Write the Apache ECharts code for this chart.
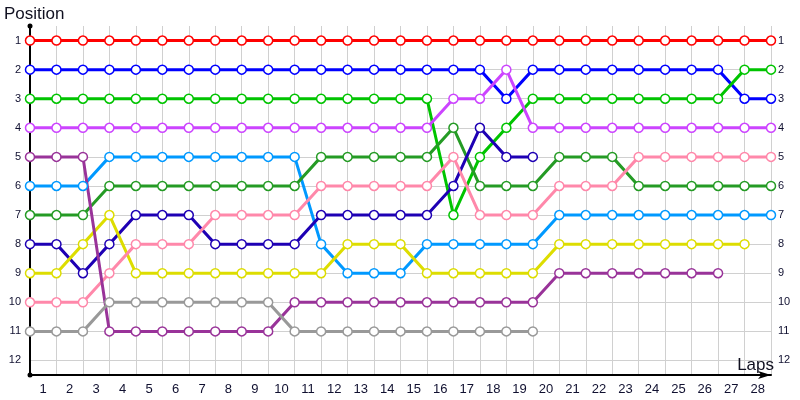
<!DOCTYPE html>
<html>
<head>
<meta charset="utf-8">
<script src="https://cdn.jsdelivr.net/npm/echarts@6/dist/echarts.min.js"></script>
<style>
  html, body { margin: 0; padding: 0; background: #fff; }
  #chart { width: 800px; height: 400px; }
</style>
</head>
<body>
<div id="chart"></div>
<script>
// laps 0..28, positions (null = out of the race)
const laps = [0, 1, 2, 3, 4, 5, 6, 7, 8, 9, 10, 11, 12, 13, 14, 15, 16, 17, 18, 19, 20, 21, 22, 23, 24, 25, 26, 27, 28]
const lapLabels = ['1', '2', '3', '4', '5', '6', '7', '8', '9', '10', '11', '12', '13', '14',
  '15', '16', '17', '18', '19', '20', '21', '22', '23', '24', '25', '26', '27', '28']
const positionLabels = [1, 2, 3, 4, 5, 6, 7, 8, 9, 10, 11, 12]

const red = [1, 1, 1, 1, 1, 1, 1, 1, 1, 1, 1, 1, 1, 1, 1, 1, 1, 1, 1, 1, 1, 1, 1, 1, 1, 1, 1, 1, 1]
const blue = [2, 2, 2, 2, 2, 2, 2, 2, 2, 2, 2, 2, 2, 2, 2, 2, 2, 2, 3, 2, 2, 2, 2, 2, 2, 2, 2, 3, 3]
const green = [3, 3, 3, 3, 3, 3, 3, 3, 3, 3, 3, 3, 3, 3, 3, 3, 7, 5, 4, 3, 3, 3, 3, 3, 3, 3, 3, 2, 2]
const magenta = [4, 4, 4, 4, 4, 4, 4, 4, 4, 4, 4, 4, 4, 4, 4, 4, 3, 3, 2, 4, 4, 4, 4, 4, 4, 4, 4, 4, 4]
const purple = [5, 5, 5, 11, 11, 11, 11, 11, 11, 11, 10, 10, 10, 10, 10, 10, 10, 10, 10, 10, 9, 9, 9, 9, 9, 9, 9, null, null]
const lightBlue = [6, 6, 6, 5, 5, 5, 5, 5, 5, 5, 5, 8, 9, 9, 9, 8, 8, 8, 8, 8, 7, 7, 7, 7, 7, 7, 7, 7, 7]
const darkGreen = [7, 7, 7, 6, 6, 6, 6, 6, 6, 6, 6, 5, 5, 5, 5, 5, 4, 6, 6, 6, 5, 5, 5, 6, 6, 6, 6, 6, 6]
const navy = [8, 8, 9, 8, 7, 7, 7, 8, 8, 8, 8, 7, 7, 7, 7, 7, 6, 4, 5, 5, null, null, null, null, null, null, null, null, null]
const yellow = [9, 9, 8, 7, 9, 9, 9, 9, 9, 9, 9, 9, 8, 8, 8, 9, 9, 9, 9, 9, 8, 8, 8, 8, 8, 8, 8, 8, null]
const pink = [10, 10, 10, 9, 8, 8, 8, 7, 7, 7, 7, 6, 6, 6, 6, 6, 5, 7, 7, 7, 6, 6, 6, 5, 5, 5, 5, 5, 5]
const gray = [11, 11, 11, 10, 10, 10, 10, 10, 10, 10, 11, 11, 11, 11, 11, 11, 11, 11, 11, 11, null, null, null, null, null, null, null, null, null]

const drivers = [
  { data: red, color: '#ff0000' },
  { data: blue, color: '#0000ff' },
  { data: green, color: '#00c400' },
  { data: magenta, color: '#cc44ff' },
  { data: lightBlue, color: '#0099ff' },
  { data: darkGreen, color: '#259b25' },
  { data: navy, color: '#1e00b4' },
  { data: yellow, color: '#dddd00' },
  { data: pink, color: '#ff88aa' },
  { data: purple, color: '#993399' },
  { data: gray, color: '#999999' },
]

const font = 'Liberation Sans'
const myChart = echarts.init(document.getElementById('chart'))

const yBase = {
  type: 'value',
  inverse: true,
  min: 0.5,
  max: 12.5,
  axisTick: { show: false, customValues: positionLabels },
  axisLabel: {
    customValues: positionLabels,
    fontFamily: font,
    fontSize: 11,
    color: '#101030',
  },
}

const titleStyle = { fontFamily: font, fontSize: 17, fontWeight: 'normal', color: '#101020' }

const option = {
  animation: false,
  title: [
    { text: 'Position', left: 4, top: 6, padding: 0, textStyle: titleStyle },
    { text: 'Laps', right: 26, top: 357, padding: 0, textStyle: titleStyle },
  ],
  grid: { left: 30, right: 29, top: 26, bottom: 25, containLabel: false, outerBoundsMode: 'none' },
  xAxis: {
    type: 'value',
    min: 0,
    max: 28,
    interval: 1,
    axisLine: {
      lineStyle: { color: '#000', width: 2 },
      symbol: ['none', 'arrow'],
      symbolSize: [6, 13],
    },
    axisTick: { show: false },
    axisLabel: {
      customValues: lapLabels.map((_, i) => i + 0.5),
      formatter: (v) => lapLabels[Math.floor(v)],
      fontFamily: font,
      fontSize: 13,
      color: '#101030',
      margin: 8,
    },
    splitLine: { show: true, lineStyle: { color: '#d0d0d0', width: 1 } },
  },
  yAxis: [
    {
      ...yBase,
      position: 'left',
      axisLine: {
        show: true,
        lineStyle: { color: '#000', width: 2 },
        symbol: ['circle', 'circle'],
        symbolSize: [5, 5],
      },
      axisLabel: { ...yBase.axisLabel, margin: 9 },
      splitLine: { show: true, lineStyle: { color: '#d0d0d0', width: 1 } },
    },
    {
      ...yBase,
      position: 'right',
      axisLine: { show: false },
      axisLabel: { ...yBase.axisLabel, margin: 7 },
      splitLine: { show: false },
    },
  ],
  series: drivers.map((d) => ({
    type: 'line',
    data: laps.map((lap, i) => [lap, d.data[i]]).filter((p) => p[1] !== null),
    color: d.color,
    symbol: 'circle',
    symbolSize: 9,
    lineStyle: { color: d.color, width: 3 },
    itemStyle: { color: '#fff', borderColor: d.color, borderWidth: 1.5 },
  })),
}
myChart.setOption(option)
</script>
</body>
</html>
